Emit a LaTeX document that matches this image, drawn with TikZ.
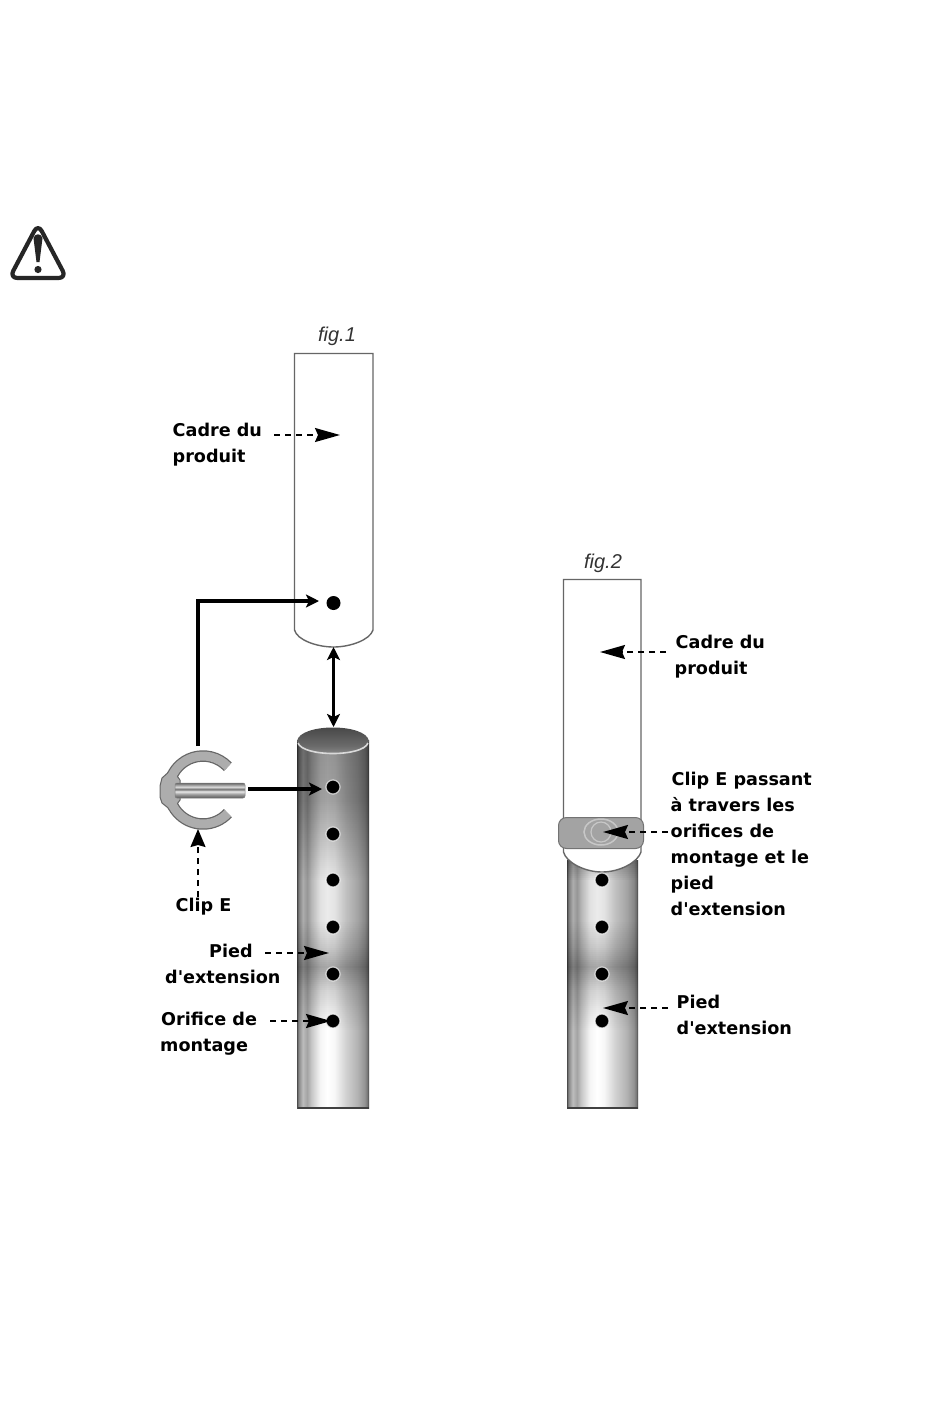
\documentclass[tikz,border=0pt]{standalone}
\usepackage{fontspec}
\setmainfont{DejaVu Sans}[Ligatures=TeXOff]
\newfontfamily\figfont{Liberation Sans}
\usetikzlibrary{arrows.meta,calc}
\pgfdeclarehorizontalshading{tubeshade}{100bp}{
 color(0bp)=(black!70);color(25bp)=(black!70);color(26bp)=(black!48);color(29bp)=(black!26);color(32bp)=(black!36);color(35bp)=(black!22);color(41bp)=(black!4);
 color(46bp)=(black!0);color(51bp)=(black!3);color(59bp)=(black!18);color(67bp)=(black!30);color(72bp)=(black!42);color(74bp)=(black!55);color(75bp)=(black!80);color(100bp)=(black!80)}
\pgfdeclareverticalshading{pinshade}{100bp}{
 color(0bp)=(black!65);color(25bp)=(black!65);color(37bp)=(black!40);color(47bp)=(black!8);color(54bp)=(black!55);color(62bp)=(black!15);color(75bp)=(black!60);color(100bp)=(black!60)}
\pgfdeclareverticalshading{boreshade}{100bp}{
 color(0bp)=(black!40);color(25bp)=(black!40);color(42bp)=(black!58);color(75bp)=(black!75);color(100bp)=(black!75)}
% darkening along a tube: x0, x1, list of y/opacity segments (even lengths, pixel aligned)
\newcommand{\tubeoverlay}[3]{%
 \foreach \ya/\oa/\yb/\ob in {#3}{%
  \pgfmathtruncatemacro{\nn}{(\yb-\ya)/2-1}%
  \foreach \i in {0,...,\nn}{%
   \pgfmathsetmacro{\op}{\oa+(\ob-\oa)*\i/(\nn+1)}%
   \pgfmathsetmacro{\yy}{\ya+2*\i}%
   \fill[black,opacity=\op] (#1,\yy) rectangle (#2,\yy+2);%
  }%
 }%
}
\tikzset{
 framebox/.style={draw=black!60,line width=1.4pt,fill=white},
 tubeedge/.style={draw=black!75,line width=2pt},
 hole/.style={circle,fill=black,draw=white,draw opacity=.7,line width=1.2pt,minimum size=14pt,inner sep=0pt},
 lbl/.style={font=\fontsize{17.6}{26}\selectfont\bfseries,align=left,anchor=north west,inner sep=0pt,text=black},
 figlbl/.style={font=\fontsize{20}{22}\selectfont\figfont\itshape,inner sep=0pt,text=black!80},
 solidarrow/.style={line width=3.2pt,-{Stealth[length=13pt,width=13pt,inset=3pt]}},
 dasharrow/.style={line width=1.7pt,dash pattern=on 6pt off 5pt,-{Stealth[length=25pt,width=14pt,inset=3pt]}},
 cliparrow/.style={line width=1.7pt,dash pattern=on 6pt off 5pt,-{Stealth[length=18pt,width=15pt,inset=2pt]}},
}
\begin{document}
\begin{tikzpicture}[x=1pt,y=-1pt]
\useasboundingbox (0,0) rectangle (950,1422);
\fill[white] (0,0) rectangle (950,1422);

% warning icon
\draw[line width=4.2pt,black!85,rounded corners=8pt,line join=round] (38,224) -- (9.5,278) -- (66.5,278) -- cycle;
\fill[black!85] (33.5,238) .. controls (35,233) and (41,233) .. (42.5,238) -- (39.5,262) -- (36.5,262) -- cycle;
\fill[black!85] (38,269.5) circle (3.6pt);

% fig 1 frame
\node[figlbl] (fig1) at (337,336) {fig.1};
\draw[framebox] (294.5,353.5) -- (373,353.5) -- (373,630) .. controls (370,640) and (350,647) .. (333.5,647) .. controls (317,647) and (297,640) .. (294.5,630) -- cycle;
\node[hole,draw=none] (h0) at (333.5,603) {};

% fig 1 tube
\shade[shading=tubeshade] (297,740) rectangle (369,1108);
\tubeoverlay{297}{369}{740/.42/800/.36,800/.36/840/.22,840/.22/880/.08,880/.08/920/.08,920/.08/946/.2,946/.2/966/.34,966/.34/990/.16,990/.16/1030/0}
\draw[tubeedge] (297.5,1107.5) -- (369,1107.5);
\shade[shading=boreshade] (297,741) .. controls (300,723) and (366,723) .. (369,741) .. controls (366,758) and (300,758) .. (297,741) -- cycle;
\draw[black!15,line width=1.6pt] (298,743) .. controls (303,757) and (363,757) .. (368,743);
\foreach \n/\y in {1/787,2/834,3/880,4/927,5/974,6/1021}{\node[hole] (a\n) at (333,\y) {};}

% clip E
\draw[line width=11.5pt,black!60] ([shift={(43:34)}]203,790) arc[radius=34,start angle=43,delta angle=274];
\draw[fill=black!32,draw=black!60,line width=1pt,line join=round] (172,769) -- (162,778) -- (160,786) -- (160,797) -- (162,803) -- (172,811) -- (180,800) -- (180,780) -- cycle;
\draw[line width=9pt,black!32] ([shift={(43:34)}]203,790) arc[radius=34,start angle=43,delta angle=274];
\shade[shading=pinshade,draw=black!50,line width=.5pt,rounded corners=2pt] (175,783) rectangle (245,798);

% fig 2
\shade[shading=tubeshade] (567,860) rectangle (638,1108);
\tubeoverlay{567}{638}{860/.3/880/.08,880/.08/920/.08,920/.08/946/.2,946/.2/966/.34,966/.34/990/.16,990/.16/1030/0}
\draw[tubeedge] (567,1107.5) -- (638,1107.5);
\node[figlbl] (fig2) at (603,563) {fig.2};
\draw[framebox] (563.5,579.5) -- (641,579.5) -- (641,852) .. controls (638,862) and (620,872) .. (602,872) .. controls (584,872) and (566,862) .. (563.5,852) -- cycle;
\draw[fill=black!36,draw=black!55,line width=1pt,rounded corners=8pt] (558.5,817.5) rectangle (643.5,848.5);
\draw[black!22,line width=1.5pt] (601,832) ellipse [x radius=17,y radius=13];
\draw[black!22,line width=1.2pt] (601,832) ellipse [x radius=10,y radius=10];
\foreach \n/\y in {3/880,4/927,5/974,6/1021}{\node[hole] (b\n) at (602,\y) {};}

% text
\node[lbl] (cadreA) at (172.5,423) {Cadre du\\produit};
\node[lbl] (clipA) at (175.5,898) {Clip E};
\node[lbl] (piedA) at (165,944) {\hspace*{44pt}Pied\\d'extension};
\node[lbl] (orifA) at (160,1012) {\hspace*{1pt}Orifice de\\montage};
\node[lbl] (cadreB) at (674.5,635) {\hspace*{1pt}Cadre du\\produit};
\node[lbl] (clipB) at (670.5,772) {\hspace*{1pt}Clip E passant\\à travers les\\orifices de\\montage et le\\pied\\d'extension};
\node[lbl] (piedB) at (676.5,995) {Pied\\d'extension};

% connector ends
\coordinate (c1s) at (274,435);   \coordinate (c1e) at (340,435);
\coordinate (p1s) at (265,953);   \coordinate (p1e) at (329,953);
\coordinate (o1s) at (270,1021);  \coordinate (o1e) at (331,1021);
\coordinate (clipTop) at (198,746);
\coordinate (t0) at (319,601);
\coordinate (pinEnd) at (248,789); \coordinate (t1) at (322,789);
\coordinate (upA) at (333.5,647);  \coordinate (upB) at (333.5,727);
\coordinate (ce1) at (198,897);    \coordinate (ce2) at (198,829);
\coordinate (c2s) at (666,652);    \coordinate (c2e) at (600,652);
\coordinate (m2s) at (668,832);    \coordinate (m2e) at (603,832);
\coordinate (p2s) at (668,1008);   \coordinate (p2e) at (603,1008);

% connectors
\draw[dasharrow] (c1s) -- (c1e);
\draw[dasharrow] (p1s) -- (p1e);
\draw[dasharrow] (o1s) -- (o1e);
\draw[dasharrow] (c2s) -- (c2e);
\draw[dasharrow] (m2s) -- (m2e);
\draw[dasharrow] (p2s) -- (p2e);
\draw[cliparrow] (ce1) -- (ce2);
\draw[solidarrow,line join=miter] (clipTop) |- (t0);
\draw[solidarrow] (pinEnd) -- (t1);
\draw[solidarrow,{Stealth[length=13pt,width=13pt,inset=3pt]}-{Stealth[length=13pt,width=13pt,inset=3pt]}] (upA) -- (upB);
\end{tikzpicture}
\end{document}
